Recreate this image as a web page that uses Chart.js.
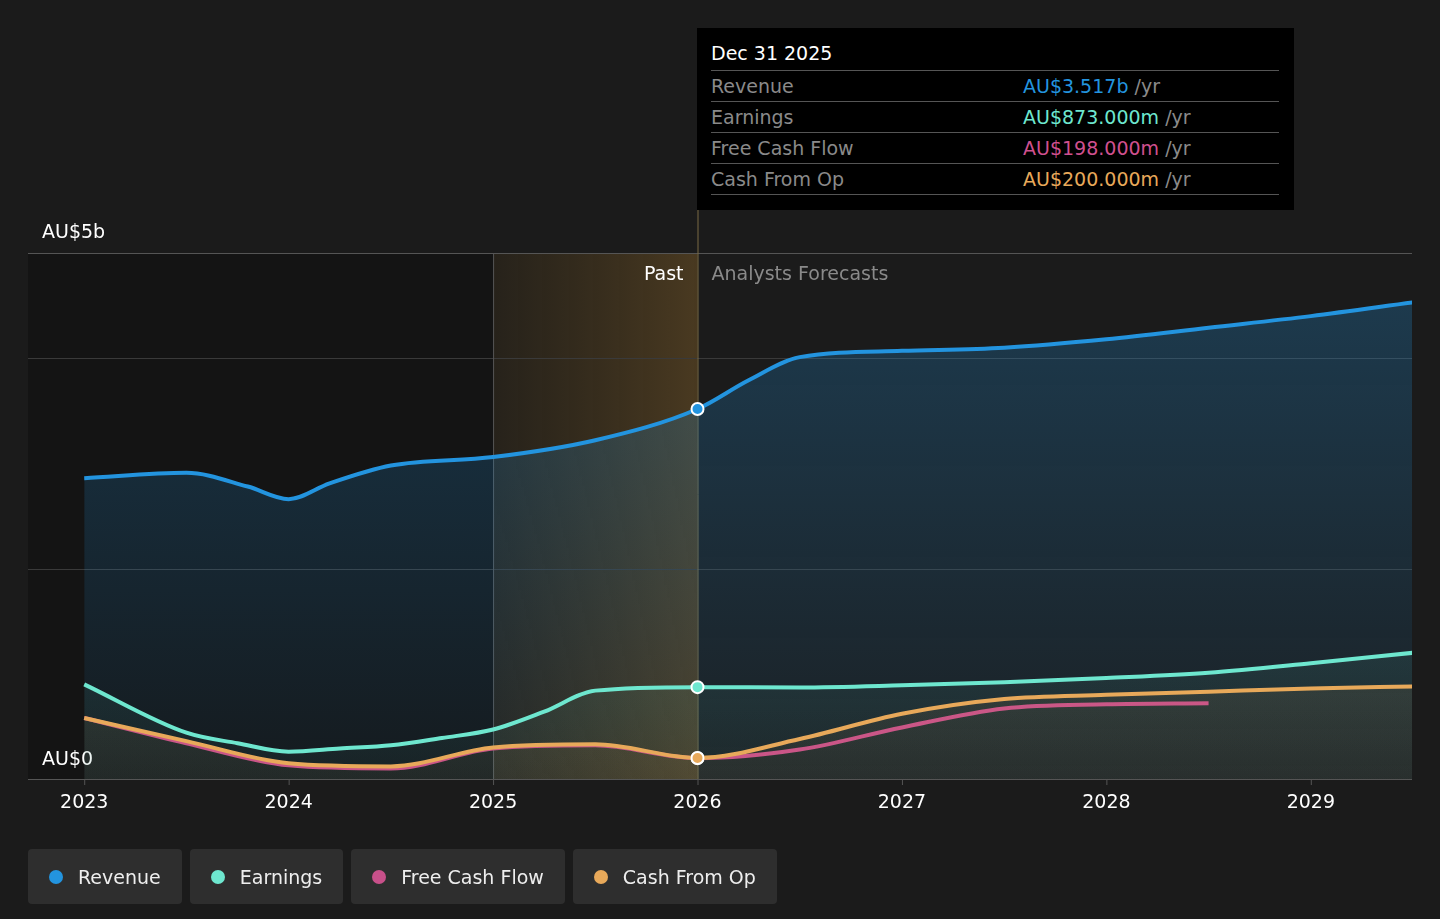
<!DOCTYPE html>
<html>
<head>
<meta charset="utf-8">
<script src="https://cdn.jsdelivr.net/npm/chart.js@4.4.0/dist/chart.umd.min.js"></script>
<style>
  html, body { margin: 0; padding: 0; background: #1b1b1b; font-family: "DejaVu Sans", sans-serif; }
  #wrap { position: relative; width: 1440px; height: 919px; }
  canvas { position: absolute; left: 0; top: 0; }
  .tip { position: absolute; left: 697px; top: 28px; width: 597px; height: 182px; background: #000; color: #fff; box-sizing: border-box; padding: 14px 14px 0 14px; }
  .tip .date { font-size: 19px; margin-bottom: 6px; }
  .tip .row { display: flex; border-top: 1px solid #555; height: 30px; align-items: center; font-size: 19px; width: 568px; }
  .tip .row:last-child { border-bottom: 1px solid #555; }
  .tip .lbl { color: #8a8a8a; width: 312px; }
  .tip .unit { color: #8a8a8a; }
  .legend { position: absolute; top: 849px; left: 28px; display: flex; gap: 8px; }
  .legend div { background: #2e2e2e; border-radius: 4px; height: 55px; display: flex; align-items: center; padding: 0 21px; color: #eee; font-size: 19px; }
  .legend span { width: 14px; height: 14px; border-radius: 50%; display: inline-block; margin-right: 15px; }
</style>
</head>
<body>
<div id="wrap">
  <canvas id="c" width="1440" height="919"></canvas>
  <div class="tip">
    <div class="date">Dec 31 2025</div>
    <div class="row"><span class="lbl">Revenue</span><span style="color:#2394df">AU$3.517b</span>&nbsp;<span class="unit">/yr</span></div>
    <div class="row"><span class="lbl">Earnings</span><span style="color:#6ee7cf">AU$873.000m</span>&nbsp;<span class="unit">/yr</span></div>
    <div class="row"><span class="lbl">Free Cash Flow</span><span style="color:#d0508f">AU$198.000m</span>&nbsp;<span class="unit">/yr</span></div>
    <div class="row"><span class="lbl">Cash From Op</span><span style="color:#e8a95a">AU$200.000m</span>&nbsp;<span class="unit">/yr</span></div>
  </div>
  <div class="legend">
    <div><span style="background:#2394df"></span>Revenue</div>
    <div><span style="background:#6ee7cf"></span>Earnings</div>
    <div><span style="background:#c8508a"></span>Free Cash Flow</div>
    <div><span style="background:#e8a95a"></span>Cash From Op</div>
  </div>
</div>
<script>
// --- Data (AU$ billions) ---
const revenueX = [2023, 2023.5, 2023.8, 2024, 2024.2, 2024.5, 2025, 2025.5, 2026, 2026.25, 2026.5, 2027, 2027.5, 2028, 2028.5, 2029, 2029.5];
const revenueY = [2.86, 2.91, 2.78, 2.66, 2.81, 2.98, 3.06, 3.22, 3.517, 3.79, 4.01, 4.07, 4.10, 4.18, 4.29, 4.40, 4.53];
const earningsX = [2023, 2023.5, 2023.75, 2024, 2024.25, 2024.5, 2024.75, 2025, 2025.25, 2025.5, 2026, 2026.5, 2027, 2027.5, 2028, 2028.5, 2029, 2029.5];
const earningsY = [0.90, 0.44, 0.34, 0.26, 0.29, 0.32, 0.39, 0.47, 0.64, 0.84, 0.873, 0.87, 0.89, 0.92, 0.96, 1.01, 1.10, 1.20];
const fcfX = [2023, 2023.5, 2024, 2024.5, 2025, 2025.5, 2026, 2026.5, 2027, 2027.5, 2028, 2028.5];
const fcfY = [0.58, 0.34, 0.13, 0.10, 0.29, 0.32, 0.198, 0.28, 0.49, 0.67, 0.71, 0.72];
const cfoX = [2023, 2023.5, 2024, 2024.5, 2025, 2025.5, 2026, 2026.5, 2027, 2027.5, 2028, 2028.5, 2029, 2029.5];
const cfoY = [0.58, 0.36, 0.15, 0.12, 0.30, 0.33, 0.200, 0.38, 0.62, 0.76, 0.80, 0.83, 0.86, 0.88];
const yearTicks = [2023, 2024, 2025, 2026, 2027, 2028, 2029];
const gridValues = [2, 4];
const pastStart = 2025, nowX = 2026;

const pts = (xs, ys) => xs.map((x, i) => ({ x, y: ys[i] }));
const markNow = (ctx) => (ctx.raw && ctx.raw.x === nowX ? 6 : 0);

const grad = (chart, top, bottom) => {
  const a = chart.chartArea;
  if (!a) return top;
  const g = chart.ctx.createLinearGradient(0, a.top, 0, a.bottom);
  g.addColorStop(0, top); g.addColorStop(1, bottom);
  return g;
};

const backdrop = {
  id: 'backdrop',
  beforeDatasetsDraw(chart) {
    const { ctx, chartArea: a, scales: { x, y } } = chart;
    const xp = x.getPixelForValue(pastStart), xn = x.getPixelForValue(nowX);
    ctx.save();
    ctx.fillStyle = '#141414';
    ctx.fillRect(a.left, a.top, xp - a.left, a.bottom - a.top);
    const g = ctx.createLinearGradient(xp, 0, xn, 0);
    g.addColorStop(0, 'rgba(110,80,30,0.15)'); g.addColorStop(1, 'rgba(130,95,40,0.45)');
    ctx.fillStyle = g;
    ctx.fillRect(xp, a.top, xn - xp, a.bottom - a.top);
    ctx.strokeStyle = '#3a3a3a'; ctx.lineWidth = 1;
    gridValues.forEach(v => { const py = Math.round(y.getPixelForValue(v)) + 0.5; ctx.beginPath(); ctx.moveTo(a.left, py); ctx.lineTo(a.right, py); ctx.stroke(); });
    ctx.strokeStyle = '#555';
    [a.top + 0.5, a.bottom + 0.5].forEach(py => { ctx.beginPath(); ctx.moveTo(a.left, py); ctx.lineTo(a.right, py); ctx.stroke(); });
    ctx.beginPath(); ctx.moveTo(xp + 0.5, a.top); ctx.lineTo(xp + 0.5, a.bottom); ctx.stroke();
    ctx.strokeStyle = '#7a6a45';
    ctx.beginPath(); ctx.moveTo(xn + 0.5, 210); ctx.lineTo(xn + 0.5, a.bottom); ctx.stroke();
    ctx.font = '19px "DejaVu Sans"';
    ctx.fillStyle = '#fff'; ctx.textAlign = 'right';
    ctx.fillText('Past', xn - 14, a.top + 27);
    ctx.fillStyle = '#8a8a8a'; ctx.textAlign = 'left';
    ctx.fillText('Analysts Forecasts', xn + 14, a.top + 27);
    ctx.fillStyle = '#fff';
    ctx.fillText('AU$5b', 42, a.top - 15);
    ctx.fillText('AU$0', 42, a.bottom - 14);
    ctx.textAlign = 'center';
    yearTicks.forEach(t => {
      const px = x.getPixelForValue(t);
      ctx.fillStyle = '#fff'; ctx.fillText(String(t), px, a.bottom + 29);
      ctx.strokeStyle = '#555'; ctx.beginPath(); ctx.moveTo(px + 0.5, a.bottom); ctx.lineTo(px + 0.5, a.bottom + 6); ctx.stroke();
    });
    ctx.restore();
  }
};

const line = (data, color, fillTop, fillBottom) => ({
  data, borderColor: color, borderWidth: 4, tension: 0.4, cubicInterpolationMode: 'monotone',
  pointRadius: markNow, pointBackgroundColor: color, pointBorderColor: '#fff', pointBorderWidth: 2,
  fill: fillTop ? 'origin' : false,
  backgroundColor: fillTop ? (c) => grad(c.chart, fillTop, fillBottom) : 'transparent'
});

new Chart(document.getElementById('c'), {
  type: 'line',
  data: {
    datasets: [
      line(pts(cfoX, cfoY), '#e8a95a', 'rgba(232,169,90,0.25)', 'rgba(232,169,90,0.05)'),
      line(pts(fcfX, fcfY), '#c8508a', null),
      line(pts(earningsX, earningsY), '#6ee7cf', 'rgba(110,231,207,0.22)', 'rgba(110,231,207,0.04)'),
      line(pts(revenueX, revenueY), '#2394df', 'rgba(35,148,223,0.28)', 'rgba(35,148,223,0.05)')
    ]
  },
  options: {
    responsive: false, animation: false,
    layout: { padding: { left: 28, right: 28, top: 253, bottom: 140 } },
    scales: {
      x: { type: 'linear', min: 2022.725, max: 2029.495, display: false },
      y: { min: 0, max: 5, display: false }
    },
    plugins: { legend: { display: false }, tooltip: { enabled: false } }
  },
  plugins: [backdrop]
});
</script>
</body>
</html>
